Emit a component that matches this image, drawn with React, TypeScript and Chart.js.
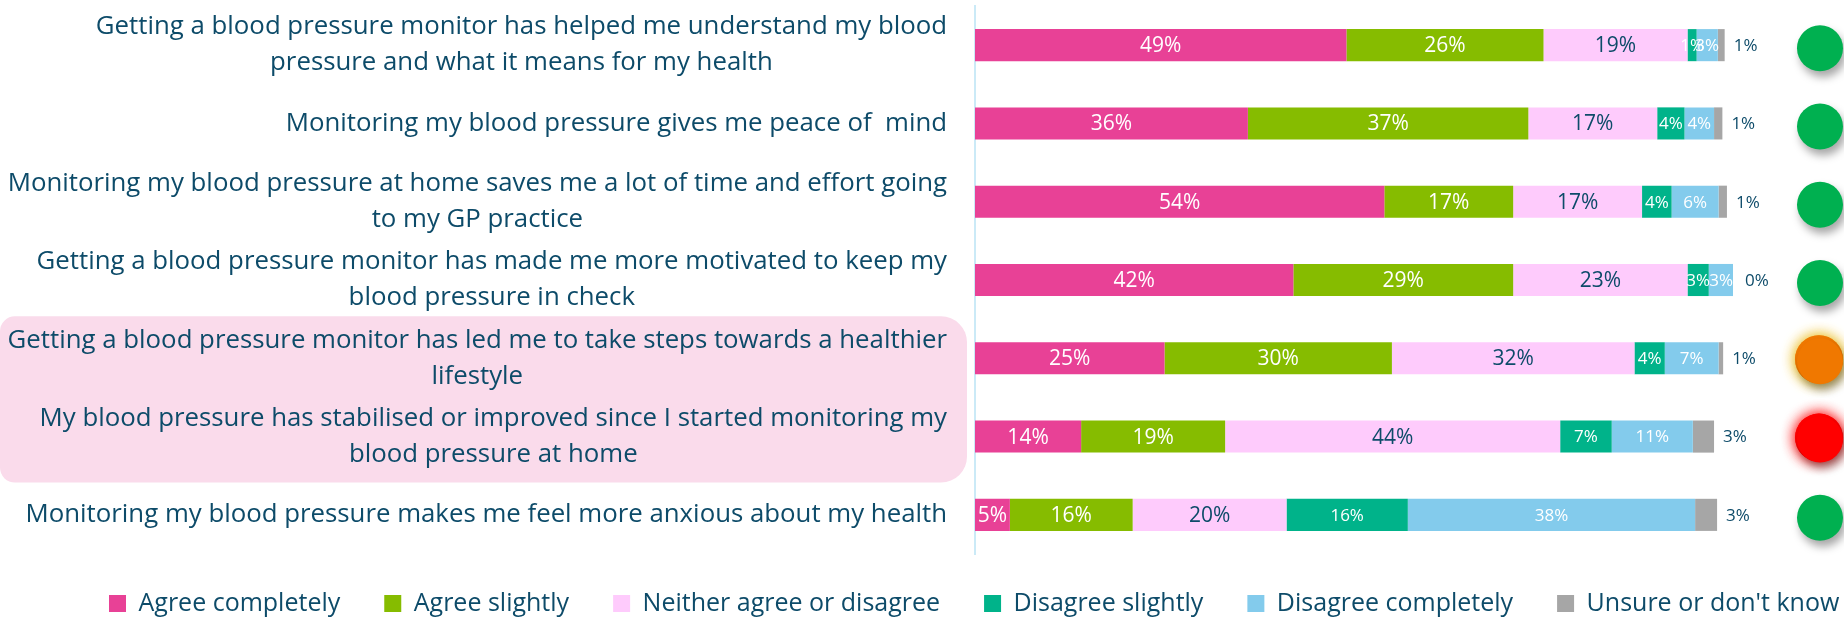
import React, { useEffect, useRef } from 'react';
import { Chart, registerables } from 'chart.js';

Chart.register(...registerables);

// ---------- data ----------
const statements: string[][] = [
  ['Getting a blood pressure monitor has helped me understand my blood', 'pressure and what it means for my health'],
  ['Monitoring my blood pressure gives me peace of  mind'],
  ['Monitoring my blood pressure at home saves me a lot of time and effort going', 'to my GP practice'],
  ['Getting a blood pressure monitor has made me more motivated to keep my', 'blood pressure in check'],
  ['Getting a blood pressure monitor has led me to take steps towards a healthier', 'lifestyle'],
  ['My blood pressure has stabilised or improved since I started monitoring my', 'blood pressure at home'],
  ['Monitoring my blood pressure makes me feel more anxious about my health'],
];

const seriesNames = [
  'Agree completely',
  'Agree slightly',
  'Neither agree or disagree',
  'Disagree slightly',
  'Disagree completely',
  "Unsure or don't know",
];

const agreeCompletely = [49, 36, 54, 42, 25, 14, 4.6];
const agreeSlightly = [26, 37, 17, 29, 30, 19, 16.2];
const neitherAgree = [19, 17, 17, 23, 32, 44.2, 20.3];
const disagreeSlightly = [1.2, 3.6, 3.9, 2.8, 4, 6.8, 16];
const disagreeCompletely = [2.8, 3.9, 6.2, 3.3, 7.1, 10.7, 37.9];
const unsure = [0.9, 1.1, 1.1, 0.3, 0.6, 2.8, 2.9];

const ratings = ['green', 'green', 'green', 'green', 'amber', 'red', 'green'];
const highlightedRows = [4, 5];

// ---------- styles ----------
const TEXT = '#0D4B69';
const FONT = '"Open Sans", sans-serif';
const seriesColors = ['#E84196', '#86BC00', '#FECBFC', '#00B38A', '#83CBEC', '#A6A6A6'];
const labelColors = ['#FFFFFF', '#FFFFFF', TEXT, '#FFFFFF', '#FFFFFF', TEXT];
const labelSizes = [21, 21, 21, 17, 17, 17];
const ratingColors: Record<string, string> = { green: '#00B050', amber: '#F07800', red: '#FF0000' };
const ratingGlow: Record<string, string> = {
  green: 'rgba(0,0,0,0)',
  amber: 'rgba(238,200,70,1)',
  red: 'rgba(255,40,40,0.9)',
};

const allSeries = [agreeCompletely, agreeSlightly, neitherAgree, disagreeSlightly, disagreeCompletely, unsure];

const LEFT_PAD = 65;

const decorPlugin = {
  id: 'decor',
  beforeInit(chart: any) {
    const legend = chart.legend;
    if (legend) {
      const orig = legend.fit;
      legend.fit = function () {
        const mw = this.maxWidth;
        this.maxWidth = 4000;
        orig.call(this);
        this.maxWidth = mw;
        this.width = mw;
        this.height = 64;
      };
    }
  },
  afterLayout(chart: any) {
    const legend = chart.legend;
    if (legend) {
      legend.top = chart.chartArea.bottom - 7;
      legend.bottom = chart.height;
      legend.height = legend.bottom - legend.top;
      legend.right = chart.width + 400;
      legend.width = legend.right - legend.left;
    }
  },
  beforeDraw(chart: any) {
    const ctx = chart.ctx;
    const y = chart.scales.y;
    const first = Math.min(...highlightedRows);
    const last = Math.max(...highlightedRows);
    const top = y.getPixelForValue(first) - 42;
    const bottom = y.getPixelForValue(last) + 46;
    ctx.save();
    ctx.fillStyle = '#FADBEB';
    ctx.beginPath();
    (ctx as any).roundRect(0, top, y.right - 8, bottom - top, [15, 26, 26, 15]);
    ctx.fill();
    ctx.restore();
  },
  afterDatasetsDraw(chart: any) {
    const ctx = chart.ctx;
    ctx.save();
    ctx.textBaseline = 'middle';
    chart.data.datasets.forEach((ds: any, di: number) => {
      const meta = chart.getDatasetMeta(di);
      meta.data.forEach((bar: any, i: number) => {
        const v = ds.data[i];
        const txt = Math.round(v) + '%';
        ctx.font = `${labelSizes[di]}px ${FONT}`;
        ctx.fillStyle = labelColors[di];
        if (di === allSeries.length - 1) {
          ctx.textAlign = 'left';
          ctx.fillText(txt, bar.x + 9, bar.y + 1);
        } else {
          ctx.textAlign = 'center';
          ctx.fillText(txt, (bar.x + bar.base) / 2, bar.y + 1);
        }
      });
    });
    ctx.restore();
  },
  afterDraw(chart: any) {
    const ctx = chart.ctx;
    const y = chart.scales.y;
    // category labels
    ctx.save();
    ctx.font = `25.8px ${FONT}`;
    ctx.fillStyle = TEXT;
    ctx.textAlign = 'center';
    ctx.textBaseline = 'middle';
    const lineH = 36;
    statements.forEach((lines, i) => {
      const cy = y.getPixelForValue(i);
      const w = Math.max(...lines.map((l) => ctx.measureText(l).width));
      const cx = y.right - 28 - w / 2;
      lines.forEach((l, k) => {
        ctx.fillText(l, cx, cy + (k - (lines.length - 1) / 2) * lineH);
      });
    });
    ctx.restore();
    // rating circles
    const cx = chart.chartArea.right + 87;
    ratings.forEach((r, i) => {
      const cy = y.getPixelForValue(i) + 3;
      if (r !== 'green') {
        for (let k = 0; k < 2; k++) {
          ctx.save();
          ctx.shadowColor = ratingGlow[r];
          ctx.shadowBlur = 14;
          ctx.fillStyle = ratingColors[r];
          ctx.beginPath();
          ctx.arc(cx - 1, cy - 2, 24, 0, Math.PI * 2);
          ctx.fill();
          ctx.restore();
        }
      }
      ctx.save();
      ctx.shadowColor = 'rgba(0,0,0,0.35)';
      ctx.shadowBlur = 9;
      ctx.shadowOffsetX = 3;
      ctx.shadowOffsetY = 6;
      ctx.fillStyle = ratingColors[r];
      ctx.beginPath();
      ctx.arc(cx, cy, 23, 0, Math.PI * 2);
      ctx.fill();
      ctx.restore();
    });
  },
};

export default function App() {
  const canvasRef = useRef<HTMLCanvasElement | null>(null);

  useEffect(() => {
    if (!canvasRef.current) return;
    const chart = new Chart(canvasRef.current, {
      type: 'bar',
      data: {
        labels: statements.map((s) => s.join(' ')),
        datasets: allSeries.map((values, i) => ({
          label: seriesNames[i],
          data: values,
          backgroundColor: seriesColors[i],
          borderWidth: 0,
          barPercentage: 0.41,
          categoryPercentage: 1,
        })),
      },
      options: {
        indexAxis: 'y',
        animation: false,
        responsive: true,
        maintainAspectRatio: false,
        devicePixelRatio: 1,
        layout: { padding: { top: 6, left: LEFT_PAD, right: 0, bottom: 0 } },
        scales: {
          x: {
            stacked: true,
            min: 0,
            max: 100,
            display: false,
          },
          y: {
            stacked: true,
            grid: { display: false },
            border: { display: true, color: '#CBEAF7', width: 2 },
            ticks: { display: false },
            afterFit: (s: any) => {
              s.width = 975 - LEFT_PAD;
            },
          },
          yRight: {
            type: 'linear',
            position: 'right',
            display: true,
            grid: { display: false },
            border: { display: false },
            ticks: { display: false },
            afterFit: (s: any) => {
              s.width = 111;
            },
          },
        },
        plugins: {
          legend: {
            position: 'bottom',
            align: 'start',
            labels: {
              boxWidth: 17,
              boxHeight: 17,
              padding: 44,
              color: TEXT,
              font: { family: FONT, size: 25 },
            },
          },
          tooltip: { enabled: false },
        },
      } as any,
      plugins: [decorPlugin],
    });
    return () => chart.destroy();
  }, []);

  return (
    <div style={{ position: 'absolute', left: 0, top: 0, width: 1844, height: 618 }}>
      <canvas ref={canvasRef} />
    </div>
  );
}
